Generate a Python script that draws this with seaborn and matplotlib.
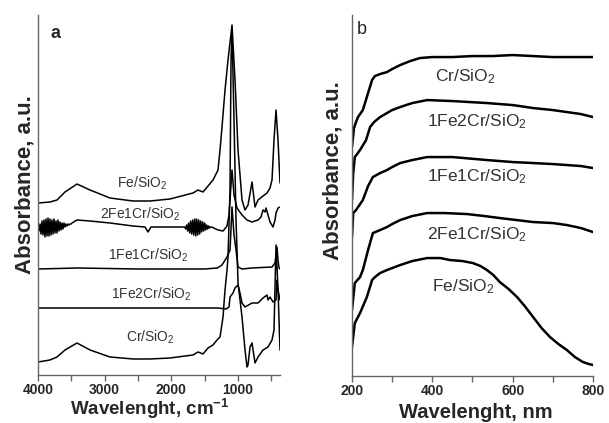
import matplotlib
matplotlib.use("Agg")
import matplotlib.pyplot as plt
import seaborn as sns

# ---- panel a: FTIR spectra (wavenumber, cm-1; absorbance in arbitrary units) ----
fe_a_x = [4000, 3820, 3715, 3595, 3415, 3220, 2920, 2575, 2320, 2020, 1675, 1600, 1525,
          1375, 1300, 1270, 1240, 1195, 1150, 1090, 1045, 1000, 940, 895, 850, 790, 745,
          700, 625, 565, 520, 490, 460, 430, 400, 370]
fe_a_y = [172, 173, 175, 183, 191, 185, 177, 174, 174, 176, 182, 185, 183,
          195, 205, 225, 248, 285, 315, 350, 295, 225, 175, 165, 170, 193, 168,
          175, 179, 182, 187, 195, 235, 265, 235, 192]

fe2cr1_a_x = [4000, 3985, 3970, 3955, 3940, 3925, 3910, 3895, 3880, 3865, 3850, 3835,
              3820, 3805, 3790, 3775, 3760, 3745, 3730, 3715, 3700, 3685, 3670, 3655,
              3640, 3625, 3610, 3595, 3580, 3565, 3550, 3535, 3520, 3505, 3490,
              3415, 3220, 2920, 2575, 2395, 2350, 2305, 2020, 1800,
              1785, 1770, 1755, 1740, 1725, 1710, 1695, 1680, 1665, 1650, 1635, 1620,
              1605, 1590, 1575, 1560, 1545, 1530, 1515, 1500, 1485, 1470, 1455, 1440,
              1425, 1410, 1395,
              1300, 1225, 1165, 1135, 1090, 1060, 1015, 940, 865, 790, 745, 700, 655,
              625, 595, 580, 550, 520, 475, 445, 430, 400, 370]
fe2cr1_a_y = [147, 144, 151, 141, 154, 140, 155, 138, 156, 139, 157, 139,
              156, 140, 155, 141, 156, 142, 154, 142, 155, 144, 153, 145,
              152, 146, 152, 148, 151, 149, 151, 150, 151, 151, 152,
              155, 154, 152, 149, 148, 143, 148, 148, 148,
              146, 150, 144, 152, 142, 154, 141, 155, 140, 156, 139, 156,
              140, 155, 141, 154, 143, 153, 144, 152, 145, 150, 146, 149,
              147, 148, 148,
              145, 144, 149, 160, 205, 180, 167, 160, 155, 153, 154, 155, 158,
              165, 163, 167, 160, 153, 148, 155, 162, 167, 168]

fe1cr1_a_x = [4000, 3400, 2500, 1500, 1310, 1240, 1165, 1120, 1090, 1060, 1030, 1000,
              940, 790, 490, 445, 430, 415, 400, 385, 370]
fe1cr1_a_y = [106, 107, 106, 106, 107, 110, 118, 125, 168, 140, 125, 108,
              106, 107, 108, 112, 120, 128, 115, 107, 106]

fe1cr2_a_x = [4000, 3000, 2000, 1300, 1180, 1135, 1120, 1075, 1045, 1000, 970, 940,
              895, 790, 700, 625, 565, 550, 520, 475, 430, 415, 400, 370]
fe1cr2_a_y = [67, 67, 67, 67, 66, 68, 78, 82, 87, 90, 82, 72,
              68, 72, 72, 77, 80, 75, 78, 73, 75, 95, 85, 75]

cr_a_x = [4000, 3820, 3715, 3595, 3415, 3220, 2920, 2575, 2320, 2020, 1675, 1600, 1525,
          1450, 1375, 1315, 1270, 1225, 1195, 1165, 1150, 1120, 1105, 1090, 1060, 1030,
          1015, 1000, 940, 895, 865, 850, 820, 790, 745, 700, 625, 550, 490, 460, 430,
          400, 370]
cr_a_y = [13, 15, 18, 25, 32, 25, 18, 16, 16, 17, 20, 23, 21,
          27, 30, 35, 38, 58, 85, 105, 118, 185, 315, 345, 255, 155,
          125, 92, 58, 25, 8, 10, 28, 32, 12, 18, 25, 28, 35, 45, 130,
          85, 25]

# ---- panel b: UV-vis spectra (nm) ----
cr_b_x = [200, 205, 210, 215, 227, 240, 250, 257, 270, 287, 300, 320, 345, 369, 400,
          450, 500, 550, 600, 650, 700, 750, 800]
cr_b_y = [229, 248, 254, 259, 266, 283, 296, 300, 302, 304, 307, 311, 315, 318, 319,
          319, 320, 320, 321, 320, 319, 319, 319]

fe1cr2_b_x = [200, 203, 207, 220, 235, 245, 255, 270, 287, 300, 320, 350, 387, 450,
              536, 600, 651, 700, 735, 770, 800]
fe1cr2_b_y = [176, 203, 219, 226, 236, 249, 254, 259, 263, 266, 269, 273, 276, 275,
              273, 271, 268, 266, 264, 262, 259]

fe1cr1_b_x = [200, 203, 210, 227, 240, 252, 270, 287, 300, 320, 350, 387, 450, 536,
              600, 651, 700, 735, 770, 800]
fe1cr1_b_y = [139, 163, 166, 176, 190, 199, 203, 206, 209, 213, 216, 219, 219, 216,
              214, 213, 212, 211, 210, 208]

fe2cr1_b_x = [200, 207, 220, 227, 240, 252, 270, 287, 300, 320, 350, 387, 430, 486,
              530, 568, 610, 651, 700, 735, 770, 800]
fe2cr1_b_y = [66, 93, 99, 106, 126, 143, 146, 149, 152, 156, 160, 163, 163, 162,
              160, 158, 156, 154, 153, 151, 148, 144]

fe_b_x = [200, 207, 220, 237, 250, 257, 270, 287, 300, 320, 350, 387, 420, 444, 475,
          501, 520, 536, 552, 568, 590, 611, 630, 651, 672, 693, 714, 735, 755, 775,
          790, 800]
fe_b_y = [29, 53, 63, 79, 96, 99, 103, 106, 108, 111, 115, 118, 118, 116, 115,
          113, 110, 106, 101, 94, 87, 79, 70, 59, 48, 39, 32, 26, 19, 14,
          12, 11]

# label text and where it sits (data coords)
labels_a = [("Fe/SiO$_2$", 2440, 192), ("2Fe1Cr/SiO$_2$", 2470, 161),
            ("1Fe1Cr/SiO$_2$", 2350, 120), ("1Fe2Cr/SiO$_2$", 2305, 81),
            ("Cr/SiO$_2$", 2320, 38)]
labels_b = [("Cr/SiO$_2$", 483, 299), ("1Fe2Cr/SiO$_2$", 511, 254),
            ("1Fe1Cr/SiO$_2$", 511, 199), ("2Fe1Cr/SiO$_2$", 511, 141),
            ("Fe/SiO$_2$", 476, 89)]

sns.set_style("ticks")
plt.rcParams["font.family"] = ["Liberation Sans", "DejaVu Sans"]
plt.rcParams["mathtext.default"] = "regular"

fig = plt.figure(figsize=(6.09, 4.23), dpi=100)
ax_a = fig.add_axes([0.0624, 0.1135, 0.3974, 0.851])
ax_b = fig.add_axes([0.578, 0.111, 0.3957, 0.8534])

for xs, ys in [(fe_a_x, fe_a_y), (fe2cr1_a_x, fe2cr1_a_y), (fe1cr1_a_x, fe1cr1_a_y),
               (fe1cr2_a_x, fe1cr2_a_y), (cr_a_x, cr_a_y)]:
    sns.lineplot(x=xs, y=ys, ax=ax_a, color="black", lw=1.1, sort=False, estimator=None)

for xs, ys in [(cr_b_x, cr_b_y), (fe1cr2_b_x, fe1cr2_b_y), (fe1cr1_b_x, fe1cr1_b_y),
               (fe2cr1_b_x, fe2cr1_b_y), (fe_b_x, fe_b_y)]:
    sns.lineplot(x=xs, y=ys, ax=ax_b, color="black", lw=1.8, sort=False, estimator=None)

for txt, x, y in labels_a:
    ax_a.text(x, y, txt, ha="center", va="center", fontsize=10, color="#333333")
for txt, x, y in labels_b:
    ax_b.text(x, y, txt, ha="center", va="center", fontsize=12.5, color="#333333")

ax_a.set_xlim(4000, 370)
ax_a.set_ylim(0, 360)
ax_a.set_xticks([4000, 3000, 2000, 1000])
ax_a.set_xticks([3500, 2500, 1500, 500], minor=True)
ax_b.set_xlim(200, 800)
ax_b.set_ylim(0, 361)
ax_b.set_xticks([200, 400, 600, 800])
ax_b.set_xticks([300, 500, 700], minor=True)

for ax in (ax_a, ax_b):
    ax.set_yticks([])
    sns.despine(ax=ax, top=True, right=True)
    for s in ("left", "bottom"):
        ax.spines[s].set_color("#666666")
        ax.spines[s].set_linewidth(1.0)
    ax.tick_params(axis="x", which="both", direction="out", length=4, width=1,
                   color="#666666", pad=2)
    ax.tick_params(axis="x", which="major", labelsize=10)
    for t in ax.get_xticklabels():
        t.set_fontweight("bold")
    ax.set_ylabel("Absorbance, a.u.", fontsize=16, fontweight="bold")

ax_a.set_xlabel("Wavelenght, cm$^{-1}$", fontsize=13.5, fontweight="bold")
ax_b.set_xlabel("Wavelenght, nm", fontsize=14.5, fontweight="bold")
ax_a.xaxis.set_label_coords(0.463, -0.062)
ax_b.xaxis.set_label_coords(0.515, -0.074)
ax_a.yaxis.set_label_coords(-0.01, 0.528)
ax_b.yaxis.set_label_coords(-0.035, 0.568)

ax_a.text(0.05, 0.95, "a", transform=ax_a.transAxes, fontsize=13, fontweight="bold",
          ha="left", va="center")
ax_b.text(0.02, 0.96, "b", transform=ax_b.transAxes, fontsize=13,
          ha="left", va="center")

fig.savefig("out.png", dpi=100)
